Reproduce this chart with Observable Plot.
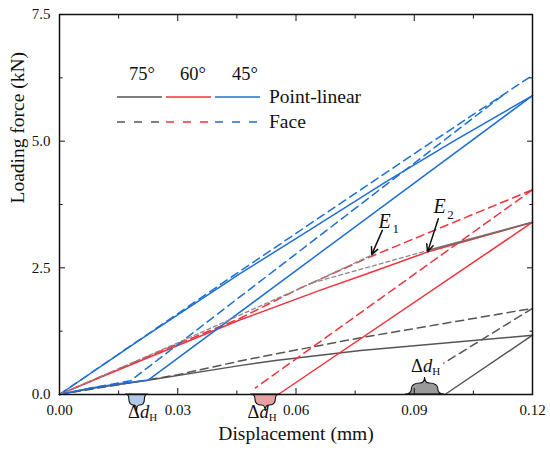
<!DOCTYPE html>
<html><head><meta charset="utf-8">
<script src="https://cdn.jsdelivr.net/npm/d3@7"></script>
<script src="https://cdn.jsdelivr.net/npm/@observablehq/plot@0.6"></script>
<style>
body{margin:0;background:#fff;font-family:"Liberation Serif","Times New Roman",serif;}
#wrap{position:relative;width:550px;height:457px;}
#wrap svg{display:block;}
#wrap text{font-family:"Liberation Serif","Times New Roman",serif !important;}
#legend{position:absolute;left:0;top:0;pointer-events:none;}
</style></head><body><div id="wrap"></div>
<script>
const BLUE = "#1e6fd2", RED = "#f0323c", GRAY = "#555555", REF = "#8a8a8a";

// ticks
const xTicks = [0, 0.03, 0.06, 0.09, 0.12];
const xMinor = [0.015, 0.045, 0.075, 0.105];
const yTicks = [0, 2.5, 5, 7.5];
const yMinor = [1.25, 3.75, 6.25];

// series: [displacement (mm), loading force (kN)]
const pl45Upper   = [[0,0],[0.02,1.06],[0.0457,2.38],[0.0637,3.26],[0.0827,4.19],[0.1,5.0],[0.12,5.9]];
const pl45Lower   = [[0,0],[0.008,0.13],[0.016,0.22],[0.0224,0.28],[0.12,5.9]];
const face45Upper = [[0,0],[0.0457,2.43],[0.0886,4.68],[0.1132,5.95],[0.12,6.3]];
const face45Lower = [[0,0],[0.008,0.13],[0.018,0.27],[0.1132,5.95]];
const pl60Load    = [[0,0],[0.0104,0.34],[0.0457,1.47],[0.0662,2.06],[0.0764,2.34],[0.0933,2.81],[0.12,3.4]];
const pl60Unload  = [[0.12,3.4],[0.0555,0]];
const face60Load  = [[0,0],[0.0104,0.35],[0.03,1.0],[0.0457,1.5],[0.0611,2.1],[0.0789,2.72],[0.12,4.04]];
const face60Unload= [[0.12,4.04],[0.0497,0.13]];
const pl75Load    = [[0,0],[0.008,0.12],[0.0224,0.28],[0.0457,0.57],[0.0548,0.67],[0.0764,0.87],[0.12,1.17]];
const pl75Unload  = [[0.12,1.17],[0.0978,0]];
const face75Load  = [[0,0],[0.0224,0.29],[0.03,0.39],[0.0457,0.66],[0.0548,0.8],[0.0764,1.12],[0.12,1.7]];
const face75Unload= [[0.12,1.7],[0.0975,0.62]];
const refE1       = [[0,0],[0.03,1.02],[0.064,2.2],[0.0789,2.74]];
const refE2       = [[0.064,2.2],[0.0933,2.84]];
const refE2Solid  = [[0.0933,2.84],[0.12,3.4]];

const series = [
  {pts: pl75Load, color: GRAY}, {pts: pl75Unload, color: GRAY},
  {pts: face75Load, color: GRAY, dash: "8,5"}, {pts: face75Unload, color: GRAY, dash: "8,5"},
  {pts: pl60Load, color: RED}, {pts: pl60Unload, color: RED},
  {pts: face60Load, color: RED, dash: "8,5"}, {pts: face60Unload, color: RED, dash: "8,5"},
  {pts: pl45Upper, color: BLUE}, {pts: pl45Lower, color: BLUE},
  {pts: face45Upper, color: BLUE, dash: "8,5"}, {pts: face45Lower, color: BLUE, dash: "8,5"},
  {pts: refE1, color: REF, dash: "4,3", w: 1.3}, {pts: refE2, color: REF, dash: "4,3", w: 1.3},
  {pts: refE2Solid, color: "#7a6a6a", w: 1.6}
];

// annotations (data space)
const eLabels = [{x: 0.0809, y: 3.42, t: "E"}, {x: 0.0949, y: 3.70, t: "E"}];
const eSubs   = [{x: 0.0845, y: 3.27, t: "1"}, {x: 0.0984, y: 3.55, t: "2"}];
const eArrows = [{x1: 0.0819, y1: 3.24, x2: 0.0792, y2: 2.76}, {x1: 0.0961, y1: 3.47, x2: 0.0934, y2: 2.82}];
const braces  = [
  {x1: 0.0168, x2: 0.0226, dir: 1,  fill: "#b4c8e8", dx: 6},
  {x1: 0.0485, x2: 0.0561, dir: 1,  fill: "#e6a1a1", dx: -3},
  {x1: 0.0878, x2: 0.0977, dir: -1, fill: "#9a9a9a", dx: 1}
];

function braceMark(...args) {
  const scales = args.find(a => a && typeof a.x === "function" && typeof a.y === "function");
  const g = d3.create("svg:g");
  const y0 = scales.y(0);
  for (const b of braces) {
    const xl = scales.x(b.x1), xr = scales.x(b.x2), w = xr - xl, m = (xl + xr) / 2;
    const h = 11 * b.dir, t = 6 * b.dir;
    const p = `M${xl},${y0} Q${xl+0.16*w},${y0} ${xl+0.16*w},${y0+0.45*h} Q${xl+0.16*w},${y0+h} ${m-0.12*w},${y0+h} Q${m},${y0+h} ${m},${y0+h+t} Q${m},${y0+h} ${m+0.12*w},${y0+h} Q${xr-0.16*w},${y0+h} ${xr-0.16*w},${y0+0.45*h} Q${xr-0.16*w},${y0} ${xr},${y0} Z`;
    g.append("path").attr("d", p).attr("fill", b.fill).attr("stroke", "#111").attr("stroke-width", 1.1);
    const ty = b.dir > 0 ? y0 + 24 : y0 + h + t - 5;
    const tx = g.append("text").attr("x", m + b.dx).attr("y", ty).attr("text-anchor", "middle")
      .attr("font-family", "Liberation Serif").attr("font-size", 18.5).attr("fill", "#111");
    tx.append("tspan").text("Δ");
    tx.append("tspan").attr("font-style", "italic").text("d");
    tx.append("tspan").attr("font-size", 11).attr("dy", 2.5).text("H");
  }
  return g.node();
}

const fmt2 = d3.format(".2f"), fmt1 = d3.format(".1f");
const blank = () => "";

const chart = Plot.plot({
  width: 550, height: 457,
  marginLeft: 59, marginRight: 18, marginTop: 14, marginBottom: 63,
  style: {fontFamily: "'Liberation Serif', serif", fontSize: "15px", background: "white", color: "#111"},
  x: {domain: [0, 0.12]},
  y: {domain: [0, 7.5]},
  marks: [
    ...series.map(s => Plot.line(s.pts, {x: d => d[0], y: d => d[1], stroke: s.color,
        strokeWidth: s.w || 1.5, strokeDasharray: s.dash || null, curve: "linear"})),
    Plot.arrow(eArrows, {x1: "x1", y1: "y1", x2: "x2", y2: "y2", stroke: "#111", strokeWidth: 1.5, headLength: 8, headAngle: 50}),
    Plot.text(eLabels, {x: "x", y: "y", text: "t", textAnchor: "start", fontStyle: "italic", fontSize: 20, fill: "#111"}),
    Plot.text(eSubs, {x: "x", y: "y", text: "t", textAnchor: "start", fontSize: 13, fill: "#111"}),
    braceMark,
    Plot.frame({stroke: "#111", strokeWidth: 1.5}),
    Plot.axisX({ticks: xTicks, tickSize: 0, tickPadding: 10, tickFormat: fmt2, fontSize: 15, label: null}),
    Plot.axisX({ticks: xTicks, tickSize: -6, tickFormat: blank, label: null}),
    Plot.axisX({ticks: xMinor, tickSize: -3.5, tickFormat: blank, label: null}),
    Plot.axisX({anchor: "top", ticks: xTicks, tickSize: -6, tickFormat: blank, label: null}),
    Plot.axisX({anchor: "top", ticks: xMinor, tickSize: -3.5, tickFormat: blank, label: null}),
    Plot.axisY({ticks: yTicks, tickSize: 0, tickPadding: 9, tickFormat: fmt1, fontSize: 15, label: null}),
    Plot.axisY({ticks: yTicks, tickSize: -6, tickFormat: blank, label: null}),
    Plot.axisY({ticks: yMinor, tickSize: -3.5, tickFormat: blank, label: null}),
    Plot.axisY({anchor: "right", ticks: yTicks, tickSize: -6, tickFormat: blank, label: null}),
    Plot.axisY({anchor: "right", ticks: yMinor, tickSize: -3.5, tickFormat: blank, label: null}),
    Plot.text(["Displacement (mm)"], {frameAnchor: "bottom", dy: 45, fontSize: 19.5, fill: "#111"}),
    Plot.text(["Loading force (kN)"], {frameAnchor: "left", dx: -42, dy: -1, rotate: -90, fontSize: 19.5, fill: "#111"})
  ]
});
const wrap = document.getElementById("wrap");
wrap.appendChild(chart);

// legend overlay
const legend = [
  {label: "75°", color: GRAY, cx: 142},
  {label: "60°", color: RED, cx: 193},
  {label: "45°", color: BLUE, cx: 245}
];
const styles = [{label: "Point-linear", dash: null, y: 97, ty: 103}, {label: "Face", dash: "8,9", y: 122, ty: 128}];
const lg = d3.select(wrap).append("svg").attr("id", "legend").attr("width", 550).attr("height", 457)
  .attr("font-family", "Liberation Serif").attr("fill", "#111");
legend.forEach((l, i) => {
  lg.append("text").attr("x", l.cx).attr("y", 80).attr("text-anchor", "middle").attr("font-size", 18.5).text(l.label);
  styles.forEach(s => {
    lg.append("line").attr("x1", 117 + i * 49).attr("x2", 162 + i * 49).attr("y1", s.y).attr("y2", s.y)
      .attr("stroke", l.color).attr("stroke-width", 1.6).attr("stroke-dasharray", s.dash);
  });
});
styles.forEach(s => lg.append("text").attr("x", 269).attr("y", s.ty).attr("font-size", 19.5).text(s.label));
</script></body></html>
